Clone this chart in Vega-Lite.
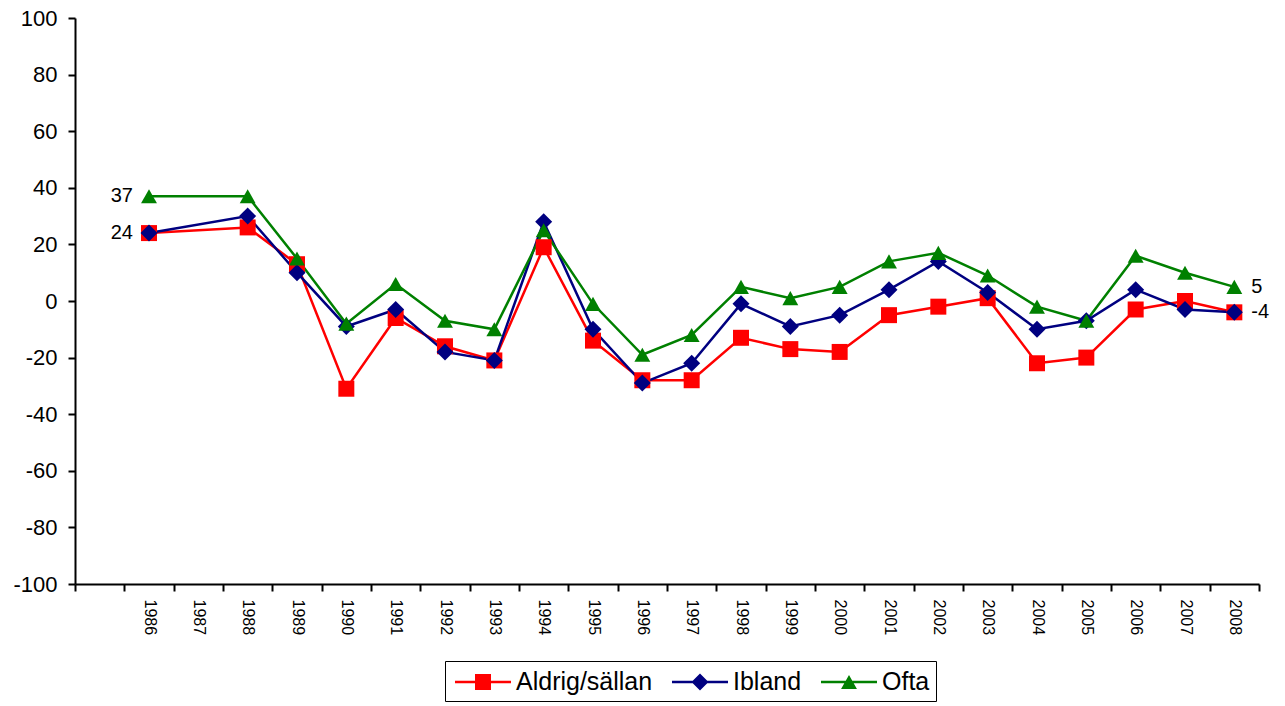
{
  "$schema": "https://vega.github.io/schema/vega-lite/v6.json",
  "width": 1184,
  "height": 566,
  "autosize": {"type": "none"},
  "padding": {"left": 75, "top": 18, "right": 26, "bottom": 122},
  "config": {
    "font": "Liberation Sans",
    "view": {"stroke": null},
    "axis": {"grid": false},
    "locale": {"number": {"decimal": ".", "thousands": ",", "grouping": [3], "currency": ["", ""], "minus": "-"}}
  },
  "data": {"values": [
    {"year": "1986", "series": "Aldrig/sällan", "value": 24},
    {"year": "1988", "series": "Aldrig/sällan", "value": 26},
    {"year": "1989", "series": "Aldrig/sällan", "value": 13},
    {"year": "1990", "series": "Aldrig/sällan", "value": -31},
    {"year": "1991", "series": "Aldrig/sällan", "value": -6},
    {"year": "1992", "series": "Aldrig/sällan", "value": -16},
    {"year": "1993", "series": "Aldrig/sällan", "value": -21},
    {"year": "1994", "series": "Aldrig/sällan", "value": 19},
    {"year": "1995", "series": "Aldrig/sällan", "value": -14},
    {"year": "1996", "series": "Aldrig/sällan", "value": -28},
    {"year": "1997", "series": "Aldrig/sällan", "value": -28},
    {"year": "1998", "series": "Aldrig/sällan", "value": -13},
    {"year": "1999", "series": "Aldrig/sällan", "value": -17},
    {"year": "2000", "series": "Aldrig/sällan", "value": -18},
    {"year": "2001", "series": "Aldrig/sällan", "value": -5},
    {"year": "2002", "series": "Aldrig/sällan", "value": -2},
    {"year": "2003", "series": "Aldrig/sällan", "value": 1},
    {"year": "2004", "series": "Aldrig/sällan", "value": -22},
    {"year": "2005", "series": "Aldrig/sällan", "value": -20},
    {"year": "2006", "series": "Aldrig/sällan", "value": -3},
    {"year": "2007", "series": "Aldrig/sällan", "value": 0},
    {"year": "2008", "series": "Aldrig/sällan", "value": -4},
    {"year": "1986", "series": "Ibland", "value": 24},
    {"year": "1988", "series": "Ibland", "value": 30},
    {"year": "1989", "series": "Ibland", "value": 10},
    {"year": "1990", "series": "Ibland", "value": -9},
    {"year": "1991", "series": "Ibland", "value": -3},
    {"year": "1992", "series": "Ibland", "value": -18},
    {"year": "1993", "series": "Ibland", "value": -21},
    {"year": "1994", "series": "Ibland", "value": 28},
    {"year": "1995", "series": "Ibland", "value": -10},
    {"year": "1996", "series": "Ibland", "value": -29},
    {"year": "1997", "series": "Ibland", "value": -22},
    {"year": "1998", "series": "Ibland", "value": -1},
    {"year": "1999", "series": "Ibland", "value": -9},
    {"year": "2000", "series": "Ibland", "value": -5},
    {"year": "2001", "series": "Ibland", "value": 4},
    {"year": "2002", "series": "Ibland", "value": 14},
    {"year": "2003", "series": "Ibland", "value": 3},
    {"year": "2004", "series": "Ibland", "value": -10},
    {"year": "2005", "series": "Ibland", "value": -7},
    {"year": "2006", "series": "Ibland", "value": 4},
    {"year": "2007", "series": "Ibland", "value": -3},
    {"year": "2008", "series": "Ibland", "value": -4},
    {"year": "1986", "series": "Ofta", "value": 37},
    {"year": "1988", "series": "Ofta", "value": 37},
    {"year": "1989", "series": "Ofta", "value": 15},
    {"year": "1990", "series": "Ofta", "value": -8},
    {"year": "1991", "series": "Ofta", "value": 6},
    {"year": "1992", "series": "Ofta", "value": -7},
    {"year": "1993", "series": "Ofta", "value": -10},
    {"year": "1994", "series": "Ofta", "value": 25},
    {"year": "1995", "series": "Ofta", "value": -1},
    {"year": "1996", "series": "Ofta", "value": -19},
    {"year": "1997", "series": "Ofta", "value": -12},
    {"year": "1998", "series": "Ofta", "value": 5},
    {"year": "1999", "series": "Ofta", "value": 1},
    {"year": "2000", "series": "Ofta", "value": 5},
    {"year": "2001", "series": "Ofta", "value": 14},
    {"year": "2002", "series": "Ofta", "value": 17},
    {"year": "2003", "series": "Ofta", "value": 9},
    {"year": "2004", "series": "Ofta", "value": -2},
    {"year": "2005", "series": "Ofta", "value": -7},
    {"year": "2006", "series": "Ofta", "value": 16},
    {"year": "2007", "series": "Ofta", "value": 10},
    {"year": "2008", "series": "Ofta", "value": 5}
  ]},
  "encoding": {
    "x": {
      "field": "year", "type": "ordinal",
      "scale": {"type": "band", "domain": [" ", "1986", "1987", "1988", "1989", "1990", "1991", "1992", "1993", "1994", "1995", "1996", "1997", "1998", "1999", "2000", "2001", "2002", "2003", "2004", "2005", "2006", "2007", "2008"], "paddingInner": 0, "paddingOuter": 0},
      "axis": {"title": null, "tickBand": "extent", "labelAngle": 90, "labelFontSize": 16, "labelColor": "black", "tickSize": 7, "tickWidth": 2, "tickColor": "black", "domainColor": "black", "domainWidth": 2, "labelPadding": 8}
    },
    "y": {
      "field": "value", "type": "quantitative",
      "scale": {"domain": [-100, 100], "nice": false},
      "axis": {"title": null, "values": [-100, -80, -60, -40, -20, 0, 20, 40, 60, 80, 100], "labelFontSize": 22, "labelColor": "black", "tickSize": 7, "tickWidth": 2, "tickColor": "black", "domainColor": "black", "domainWidth": 2, "labelPadding": 11}
    }
  },
  "resolve": {"scale": {"shape": "independent", "fill": "independent"}},
  "layer": [
    {
      "mark": {"type": "line", "strokeWidth": 2.5},
      "encoding": {
        "stroke": {"field": "series", "type": "nominal",
          "scale": {"range": ["#FF0000", "#000080", "#008000"]},
          "legend": null
        }
      }
    },
    {
      "mark": {"type": "point", "filled": true, "size": 900, "opacity": 1},
      "encoding": {
        "fill": {"field": "series", "type": "nominal",
          "scale": {"range": ["#FF0000", "#000080", "#008000"]},
          "legend": null
        },
        "shape": {"field": "series", "type": "nominal",
          "scale": {"range": ["M-0.533,-0.533H0.533V0.533H-0.533Z", "M0,-0.567L0.567,0L0,0.567L-0.567,0Z", "M0,-0.47L0.53,0.47L-0.53,0.47Z"]},
          "legend": null
        }
      }
    },
    {
      "transform": [{"filter": "false"}],
      "mark": {"type": "point", "filled": true, "size": 900},
      "encoding": {
        "fill": {"field": "series", "type": "nominal",
          "scale": {"domain": ["Aldrig/sällan", "Ibland", "Ofta"], "range": ["#FF0000", "#000080", "#008000"]},
          "legend": {"orient": "none", "legendX": 370, "legendY": 643, "direction": "horizontal", "title": null, "strokeColor": "black", "padding": 6, "labelFontSize": 25, "labelColor": "black", "labelOffset": 18, "symbolOffset": 17, "symbolSize": 900, "symbolStrokeWidth": 0, "symbolOpacity": 1, "columnPadding": 15, "labelLimit": 300}
        },
        "shape": {"field": "series", "type": "nominal",
          "scale": {"domain": ["Aldrig/sällan", "Ibland", "Ofta"], "range": ["M-1.867,-0.083H1.867V0.083H-1.867ZM-0.533,-0.533H0.533V0.533H-0.533Z", "M-1.867,-0.083H1.867V0.083H-1.867ZM0,-0.567L0.567,0L0,0.567L-0.567,0Z", "M-1.867,-0.083H1.867V0.083H-1.867ZM0,-0.47L0.53,0.47L-0.53,0.47Z"]},
          "legend": {"orient": "none", "legendX": 370, "legendY": 643, "direction": "horizontal", "title": null, "strokeColor": "black", "padding": 6, "labelFontSize": 25, "labelColor": "black", "labelOffset": 18, "symbolOffset": 17, "symbolSize": 900, "symbolStrokeWidth": 0, "symbolOpacity": 1, "columnPadding": 15, "labelLimit": 300}
        }
      }
    },
    {
      "transform": [{"filter": "datum.year == '1986' && datum.series != 'Ibland'"}],
      "mark": {"type": "text", "align": "right", "baseline": "middle", "dx": -16, "fontSize": 20, "color": "black"},
      "encoding": {"text": {"field": "value", "type": "quantitative"}}
    },
    {
      "transform": [{"filter": "datum.year == '2008' && datum.series != 'Aldrig/sällan'"}],
      "mark": {"type": "text", "align": "left", "baseline": "middle", "dx": 17, "fontSize": 20, "color": "black"},
      "encoding": {"text": {"field": "value", "type": "quantitative"}}
    }
  ]
}
